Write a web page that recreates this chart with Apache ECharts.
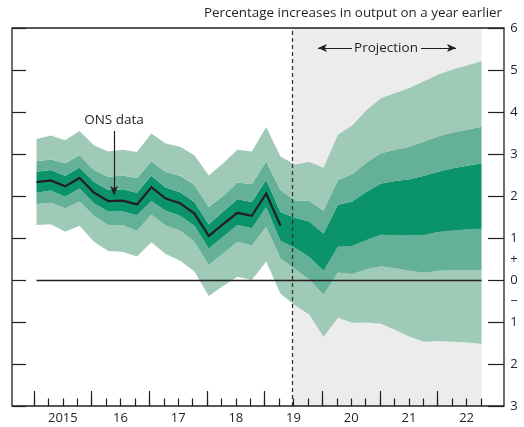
<!DOCTYPE html>
<html>
<head>
<meta charset="utf-8">
<script src="https://cdn.jsdelivr.net/npm/echarts@6/dist/echarts.min.js"></script>
<style>
html,body{margin:0;padding:0;background:#fff;}
#chart{width:524px;height:427px;}
</style>
</head>
<body>
<div id="chart"></div>
<script>
// ---- data ----
const yearLabels = ['2015','16','17','18','19','20','21','22'];
const quarterNames = ['Q1','Q2','Q3','Q4'];
const yTickValues = [-3,-2,-1,0,1,2,3,4,5,6];

// ONS data (2015 Q1 - 2019 Q2)
const onsData = [2.33,2.37,2.23,2.43,2.08,1.88,1.89,1.80,2.21,1.94,1.83,1.58,1.05,1.33,1.60,1.53,2.06,1.29];

// fan boundaries (2015 Q1 - 2022 Q4)
const upper90 = [3.36,3.44,3.33,3.55,3.21,3.06,3.10,3.05,3.49,3.25,3.17,2.97,2.49,2.78,3.10,3.06,3.64,2.94,2.75,2.81,2.67,3.46,3.68,4.05,4.33,4.45,4.57,4.73,4.89,5.01,5.11,5.21];
const upper60 = [2.83,2.87,2.78,2.97,2.62,2.46,2.49,2.42,2.83,2.57,2.48,2.26,1.74,2.00,2.32,2.28,2.82,2.14,1.90,1.88,1.65,2.38,2.52,2.80,3.02,3.10,3.17,3.30,3.42,3.51,3.58,3.65];
const upper30 = [2.58,2.62,2.48,2.68,2.34,2.14,2.16,2.08,2.48,2.20,2.09,1.86,1.33,1.63,1.92,1.86,2.38,1.62,1.48,1.39,1.11,1.79,1.87,2.10,2.30,2.36,2.40,2.48,2.58,2.66,2.72,2.78];
const lower30 = [2.08,2.13,1.98,2.18,1.83,1.63,1.63,1.54,1.88,1.65,1.53,1.29,0.75,1.03,1.31,1.23,1.73,0.93,0.77,0.55,0.22,0.79,0.81,0.95,1.08,1.06,1.06,1.07,1.14,1.18,1.20,1.22];
const lower60 = [1.81,1.84,1.71,1.87,1.53,1.31,1.31,1.17,1.56,1.30,1.18,0.91,0.36,0.63,0.91,0.82,1.27,0.52,0.26,0.02,-0.35,0.18,0.14,0.26,0.33,0.28,0.22,0.17,0.22,0.24,0.24,0.24];
const lower90 = [1.31,1.33,1.15,1.29,0.91,0.69,0.67,0.56,0.90,0.62,0.46,0.20,-0.38,-0.14,0.08,0.00,0.44,-0.33,-0.60,-0.82,-1.35,-0.90,-1.02,-1.01,-1.04,-1.19,-1.35,-1.47,-1.45,-1.47,-1.49,-1.52];

const projectionStart = 17.82; // position of the projection divider (quarter index)

// ---- build ----
const quarters = [];
yearLabels.forEach(y => quarterNames.forEach(q => quarters.push(y + ' ' + q)));

const C_DARK = '#0b936c', C_MID = '#64b198', C_LIGHT = '#9fcab8', C_GREY = '#ececec', C_INK = '#231f20';
const FONT = 'Open Sans';

function diff(a, b) { return a.map((v, i) => +(v - b[i]).toFixed(3)); }

const bands = [
  { data: lower90.slice(), color: null },
  { data: diff(lower60, lower90), color: C_LIGHT },
  { data: diff(lower30, lower60), color: C_MID },
  { data: diff(upper30, lower30), color: C_DARK },
  { data: diff(upper60, upper30), color: C_MID },
  { data: diff(upper90, upper60), color: C_LIGHT }
];

const fanSeries = bands.map((b) => ({
  type: 'line',
  xAxisIndex: 4, yAxisIndex: 3,
  stack: 'fan', stackStrategy: 'all',
  data: b.data,
  symbol: 'none', silent: true, z: 2,
  lineStyle: { width: 0, opacity: 0 },
  areaStyle: b.color ? { color: b.color, opacity: 1 } : { opacity: 0 }
}));

const chart = echarts.init(document.getElementById('chart'), null, { renderer: 'canvas' });

const option = {
  animation: false,
  backgroundColor: '#ffffff',
  textStyle: { fontFamily: FONT },
  title: {
    text: 'Percentage increases in output on a year earlier',
    right: 22, top: 7, padding: 0,
    textStyle: { fontFamily: FONT, fontSize: 13.4, fontWeight: 'normal', color: C_INK }
  },
  grid: [
    { left: 12, right: 20, top: 28, bottom: 21, show: true, borderColor: C_INK, borderWidth: 1.3, backgroundColor: 'transparent', z: 20 },
    { left: 36.5, right: 42.5, top: 28, bottom: 21 },
    { left: 34, right: 43, top: 28, bottom: 21 }
  ],
  xAxis: [
    { gridIndex: 0, type: 'value', min: 0, max: 1, show: false },
    { gridIndex: 1, type: 'value', min: 0, max: quarters.length - 1, show: false },
    { gridIndex: 2, type: 'category', data: quarters, boundaryGap: false, position: 'bottom', z: 20,
      axisLine: { show: false },
      axisTick: { show: true, inside: true, length: 7.5, interval: 0, lineStyle: { color: C_INK, width: 1.2 } },
      axisLabel: { show: false }, splitLine: { show: false } },
    { gridIndex: 2, type: 'category', data: quarters, boundaryGap: false, position: 'bottom', z: 20,
      axisLine: { show: false },
      axisTick: { show: true, inside: true, length: 15, interval: (i) => i % 4 === 0, lineStyle: { color: C_INK, width: 1.2 } },
      axisLabel: { show: true, interval: (i) => i % 4 === 2, margin: 6,
        formatter: (v, i) => yearLabels[Math.floor(i / 4)],
        fontFamily: FONT, fontSize: 13, color: C_INK },
      splitLine: { show: false } },
    { gridIndex: 1, type: 'category', data: quarters, boundaryGap: false, show: false }
  ],
  yAxis: [
    { gridIndex: 0, type: 'value', min: yTickValues[0], max: yTickValues[yTickValues.length - 1], interval: 1, position: 'left', z: 20,
      axisLine: { show: false }, axisLabel: { show: false }, splitLine: { show: false },
      axisTick: { show: true, inside: true, length: 14, lineStyle: { color: C_INK, width: 1.2 } } },
    { gridIndex: 0, type: 'value', min: yTickValues[0], max: yTickValues[yTickValues.length - 1], interval: 1, position: 'right', z: 20,
      axisLine: { show: false }, axisLabel: { show: false }, splitLine: { show: false },
      axisTick: { show: true, inside: true, length: 16, lineStyle: { color: C_INK, width: 1.2 } } },
    { gridIndex: 0, type: 'value', min: yTickValues[0], max: yTickValues[yTickValues.length - 1], interval: 0.5, position: 'right', z: 20,
      axisLine: { show: false }, axisTick: { show: false }, splitLine: { show: false },
      axisLabel: { show: true, margin: 10, align: 'center', fontFamily: FONT, fontSize: 13, color: C_INK,
        formatter: (v) => {
          if (Math.abs(v - 0.5) < 1e-6) return '+';
          if (Math.abs(v + 0.5) < 1e-6) return '\u2212';
          if (Math.abs(v - Math.round(v)) < 1e-6) return String(Math.abs(Math.round(v)));
          return '';
        } } },
    { gridIndex: 1, type: 'value', min: yTickValues[0], max: yTickValues[yTickValues.length - 1], show: false },
    { gridIndex: 2, type: 'value', min: 0, max: 1, show: false }
  ],
  graphic: [
    { type: 'text', x: 386, y: 48, z: 30,
      style: { text: 'Projection', align: 'center', verticalAlign: 'middle', fontFamily: FONT, fontSize: 13.5, fill: C_INK } },
    { type: 'text', x: 114, y: 120, z: 30,
      style: { text: 'ONS data', align: 'center', verticalAlign: 'middle', fontFamily: FONT, fontSize: 13.5, fill: C_INK } }
  ],
  series: [
    // grey projection background
    { type: 'line', xAxisIndex: 1, yAxisIndex: 3, data: [], z: 1, silent: true,
      markArea: { silent: true, itemStyle: { color: C_GREY }, data: [[{ xAxis: projectionStart }, { xAxis: quarters.length - 1 }]] } },
    ...fanSeries,
    // ONS data line
    { type: 'line', xAxisIndex: 4, yAxisIndex: 3, data: onsData, symbol: 'none', z: 5, silent: true,
      lineStyle: { color: C_INK, width: 2.2, join: 'miter' },
      markLine: { silent: true, symbol: ['none', 'arrow'], symbolSize: [6, 9], label: { show: false },
        lineStyle: { color: C_INK, width: 1.2, type: 'solid' },
        data: [
          [{ x: 114, y: 131 }, { x: 114, y: 195 }],
          [{ x: 352, y: 48 }, { x: 318, y: 48 }],
          [{ x: 421, y: 48 }, { x: 456, y: 48 }]
        ] } },
    // zero line and projection divider
    { type: 'line', xAxisIndex: 1, yAxisIndex: 3, data: [], z: 10, silent: true,
      markLine: { silent: true, symbol: 'none', label: { show: false },
        data: [
          { yAxis: 0, lineStyle: { color: C_INK, width: 1.3, type: 'solid' } },
          { xAxis: projectionStart, lineStyle: { color: '#333', width: 1.3, type: [4, 3] } }
        ] } }
  ]
};
chart.setOption(option);
</script>
</body>
</html>
